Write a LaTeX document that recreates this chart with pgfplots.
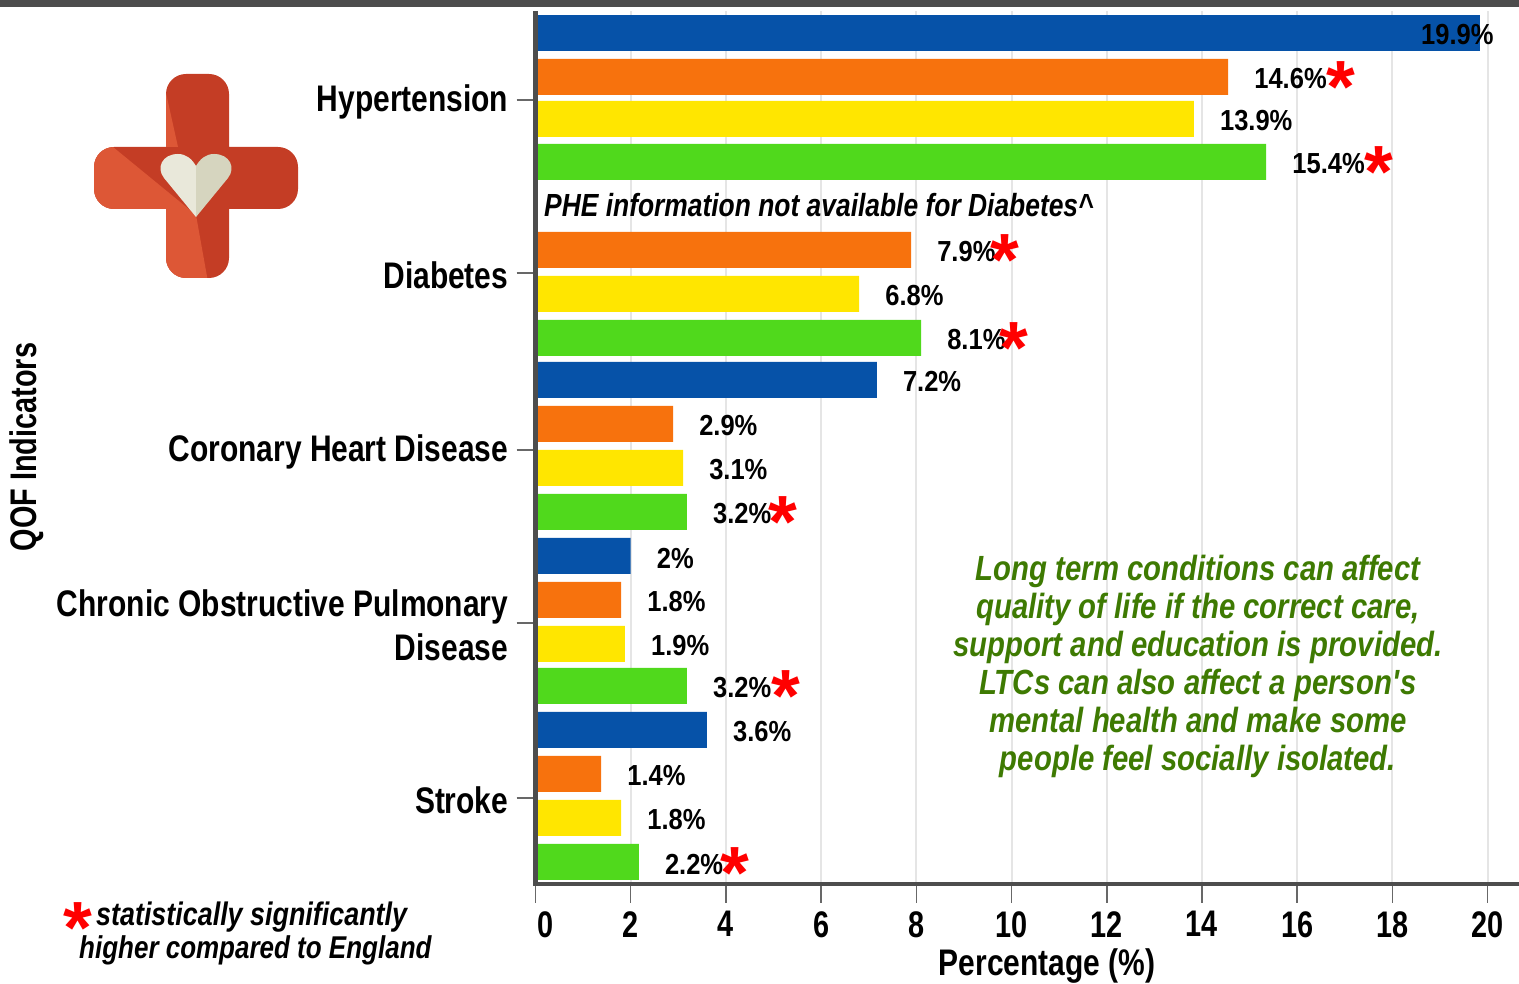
\documentclass[border=0pt]{standalone}
\usepackage{fontspec}
\usepackage{pgfplots}
\pgfplotsset{compat=1.18}
\setmainfont{Liberation Sans}[FakeStretch=0.78]
\newfontfamily\starfont{Liberation Sans}
\newfontfamily\datafont{Liberation Sans}[FakeStretch=0.88]
\newfontfamily\catfont{Liberation Sans}[FakeStretch=0.81]
\newfontfamily\notefont{Liberation Sans}[FakeStretch=0.825]
\newfontfamily\greenfont{Liberation Sans}[FakeStretch=0.838]
\definecolor{cblue}{HTML}{0652A8}
\definecolor{corange}{HTML}{F7720D}
\definecolor{cyellow}{HTML}{FFE600}
\definecolor{cgreen}{HTML}{50D91C}
\definecolor{ctext}{HTML}{3E7A02}
\definecolor{caxis}{HTML}{4D4D4D}
\definecolor{cdark}{HTML}{C43D25}
\definecolor{clight}{HTML}{DD5736}
\definecolor{cheartl}{HTML}{E9E8DA}
\definecolor{cheartr}{HTML}{D6D5BF}
\newcommand\redstar{\textcolor{red}{\smash{\raisebox{-24pt}{\fontsize{74}{74}\starfont\bfseries *}}}}
\newcommand\labfont{\fontsize{29}{30}\datafont\bfseries}
\begin{document}
\begin{tikzpicture}
\path[use as bounding box] (0,0) rectangle (1519pt,984pt);
\fill[caxis] (0,977pt) rectangle (1519pt,984pt);
\begin{axis}[
  at={(535.5pt,100pt)}, anchor=south west,
  scale only axis, width=983.5pt, height=873pt,
  xmin=0, xmax=20.66, ymin=0, ymax=873,
  xbar, bar shift=0pt, bar width=36pt,
  axis lines=left,
  axis line style={-, line width=4.5pt, color=caxis},
  xtick={0,2,...,20},
  xticklabels={\hspace*{20pt}0,2,4,6,8,10,12,14,16,18,20},
  ytick={784,611,434,261,86},
  yticklabels={Hypertension,Diabetes,Coronary Heart Disease,{Chronic Obstructive Pulmonary\\Disease},Stroke},
  yticklabel style={align=right, font=\fontsize{37}{44}\catfont\bfseries, inner sep=0pt, xshift=-8pt, yshift=-2pt},
  xticklabel style={font=\fontsize{37}{40}\selectfont\bfseries, inner sep=0pt, yshift=-8pt},
  tick align=outside, major tick length=19pt,
  tick style={line width=1.5pt, color=caxis!85},
  xmajorgrids, grid style={line width=2pt, color=black!10},
  point meta=explicit symbolic,
  nodes near coords={\pgfplotspointmeta},
  every node near coord/.append style={anchor=west, inner sep=0pt, xshift=26pt, yshift=-2pt, font=\labfont, text=black},
]
\addplot[draw=none, fill=cblue, every node near coord/.append style={xshift=-85pt}] coordinates {(19.84,851) [19.9\%]};
\addplot[draw=none, fill=cblue] coordinates {(7.17,504) [7.2\%] (2.0,328) [2\%] (3.60,154) [3.6\%]};
\addplot[draw=none, fill=corange] coordinates {(14.55,807) [14.6\%\redstar] (7.89,634) [7.9\%\kern-5pt\redstar] (2.89,460) [2.9\%] (1.80,284) [1.8\%] (1.38,110) [1.4\%]};
\addplot[draw=none, fill=cyellow] coordinates {(13.83,765) [13.9\%] (6.80,590) [6.8\%] (3.10,416) [3.1\%] (1.88,240) [1.9\%] (1.80,66) [1.8\%]};
\addplot[draw=none, fill=cgreen] coordinates {(15.35,722) [15.4\%\redstar] (8.10,546) [8.1\%\kern-6pt\redstar] (3.18,372) [3.2\%\kern-3pt\redstar] (3.18,198) [3.2\%\redstar] (2.17,22) [2.2\%\kern-3pt\redstar]};
\end{axis}
\begin{scope}[x=1pt, y=-1pt, yshift=984pt]
  % left axis line over the bars' starts
  \draw[line width=5pt, caxis] (535.5,11) -- (535.5,886);
  % logo
  \begin{scope}
    \clip[rounded corners=20pt] (166,74) rectangle (229,278) (94,147) rectangle (298,209);
    \fill[cdark] (90,70) rectangle (300,280);
    \fill[clight] (80,147) -- (113,147) -- (196,215) -- (208,282) -- (80,282) -- cycle;
    \fill[clight] (166,93) -- (178,147) -- (166,147) -- cycle;
  \end{scope}
  \fill[cheartl] (196,217) -- (164,178) .. controls (156,168) and (162,154) .. (178,154) .. controls (186,154) and (192,159) .. (196,166) -- cycle;
  \fill[cheartr] (196,217) -- (228,178) .. controls (236,168) and (230,154) .. (214,154) .. controls (206,154) and (200,159) .. (196,166) -- cycle;
  % axis titles
  \node[rotate=90, font=\fontsize{37}{40}\selectfont\bfseries, inner sep=0pt] at (27,447) {QOF Indicators};
  \node[font=\fontsize{37}{40}\catfont\bfseries, inner sep=0pt] at (1047,966) {Percentage (\%)};
  % PHE note
  \node[anchor=west, font=\fontsize{32}{34}\notefont\bfseries\itshape, inner sep=0pt] at (544,205) {PHE information not available for Diabetes\textasciicircum};
  % annotation
  \node[align=center, text=ctext, font=\fontsize{35}{38}\greenfont\bfseries\itshape, inner sep=0pt] at (1198,666) {Long term conditions can affect\\quality of life if the correct care,\\support and education is provided.\\LTCs can also affect a person\textquotesingle s\\mental health and make some\\people feel socially isolated.};
  % star key
  \node[anchor=west, font=\fontsize{32.6}{34}\notefont\bfseries\itshape, inner sep=0pt] at (96,917) {statistically significantly};
  \node[anchor=west, font=\fontsize{31.5}{34}\notefont\bfseries\itshape, inner sep=0pt] at (79,950) {higher compared to England};
  \node[anchor=center, inner sep=0pt] at (78,930) {\redstar};
\end{scope}
\end{tikzpicture}
\end{document}
